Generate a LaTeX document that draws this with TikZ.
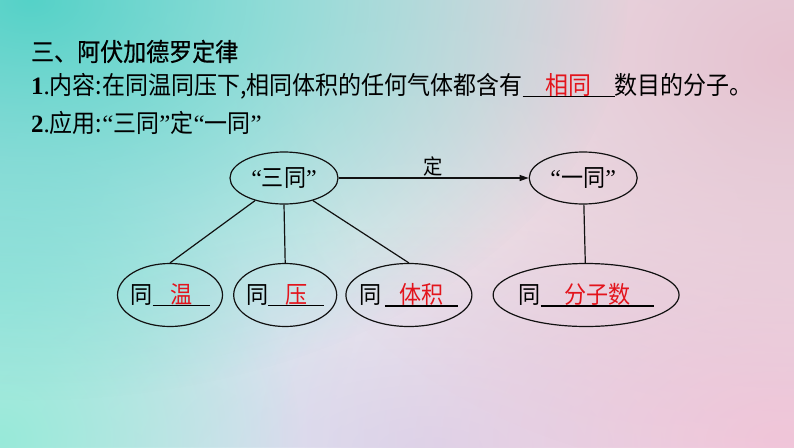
\documentclass[tikz,border=0pt]{standalone}
\usepackage{fontspec}
\setmainfont{Liberation Serif}
\newfontfamily\cjk[FakeStretch=0.92]{Noto Sans CJK SC}
\newfontfamily\cjkhead[FakeStretch=0.92,FakeBold=0.5]{Noto Sans CJK SC}
\usepackage{tikz}
\usetikzlibrary{arrows.meta,positioning,shapes.geometric,fadings}
\definecolor{inkline}{HTML}{111111}
\definecolor{fillred}{HTML}{E3141C}
\definecolor{bgmid}{HTML}{E8EAEF}
\definecolor{bglight}{HTML}{EEF0F3}
\definecolor{tealtop}{HTML}{55D2C8}
\definecolor{tealside}{HTML}{B8E8E8}
\definecolor{tealfoot}{HTML}{98EAD9}
\definecolor{pinktop}{HTML}{E6C2D0}
\definecolor{pinkfoot}{HTML}{F2C6DA}
\definecolor{lavfoot}{HTML}{D6D8EE}
\tikzfading[name=blob, inner color=transparent!0, outer color=transparent!100]
\newcommand\fillin[2]{\rlap{\rule[-3pt]{#2pt}{1.4pt}}\makebox[#2pt]{\color{fillred}#1}}
\newcommand\oq{{\rmfamily “}}
\newcommand\cq{{\rmfamily ”}}
\tikzset{
  bubble/.style={
    ellipse, draw=inkline, line width=1.2pt, inner xsep=-14pt, inner ysep=0pt,
    font=\fontsize{24}{24}\selectfont\cjk
  },
  textline/.style={anchor=base west, inner sep=0pt, font=\fontsize{25}{25}\selectfont\cjk},
  link/.style={draw=inkline, line width=1.2pt},
  arrowlink/.style={link, -{Triangle[length=9pt,width=6pt]}},
}

\begin{document}
\begin{tikzpicture}[x=1pt,y=-1pt]
  \useasboundingbox (0,0) rectangle (794,447);
  \fill[bgmid] (0,0) rectangle (794,447);
  \begin{scope}
    \clip (0,0) rectangle (794,447);
    \fill[bglight, path fading=blob] (420,230) ellipse (640 and 400);
    \fill[tealside, path fading=blob] (0,290) ellipse (360 and 300);
    \fill[lavfoot, path fading=blob] (430,447) ellipse (520 and 220);
    \fill[pinkfoot, path fading=blob] (780,440) ellipse (520 and 320);
    \fill[pinktop, path fading=blob] (794,60) ellipse (560 and 420);
    \fill[tealfoot, path fading=blob] (0,440) ellipse (300 and 280);
    \fill[tealtop, path fading=blob] (30,0) ellipse (600 and 400);
  \end{scope}

  \node[textline, font=\fontsize{25}{25}\selectfont\cjkhead] (head) at (31,61) {三、阿伏加德罗定律};
  \node[textline] (law) at (31,94) {{\rmfamily\textbf{1}.}内容:在同温同压下,相同体积的任何气体都含有\fillin{相同}{92}数目的分子。};
  \node[textline] (use) at (31,132) {{\rmfamily\textbf{2}.}应用:\oq 三同\cq 定\oq 一同\cq};

  \node[bubble, minimum width=108pt, minimum height=52pt] (san) at (284,178) {\oq 三同\cq};
  \node[bubble, minimum width=108pt, minimum height=52pt, right=190pt of san] (yi) {\oq 一同\cq};
  \node[bubble, minimum width=105pt, minimum height=63pt] (wen) at (170,295) {同\fillin{温}{57}};
  \node[bubble, minimum width=103pt, minimum height=63pt, right=10pt of wen] (ya) {同\fillin{压}{56}};
  \node[bubble, minimum width=126pt, minimum height=63pt, right=8pt of ya] (ti) {同\hspace{3pt}\fillin{体积}{73}};
  \node[bubble, minimum width=186pt, minimum height=63pt, right=20pt of ti] (fen) {同\fillin{分子数}{113}};

  \draw[arrowlink] (san) -- node[above, inner sep=1pt, font=\fontsize{21}{21}\selectfont\cjk] (ding) {定} (yi);
  \foreach \a/\b in {218/wen,south/ya,322/ti}
    \draw[link] (san.\a) -- (\b.north);
  \draw[link] (yi) -- (fen);
\end{tikzpicture}
\end{document}
